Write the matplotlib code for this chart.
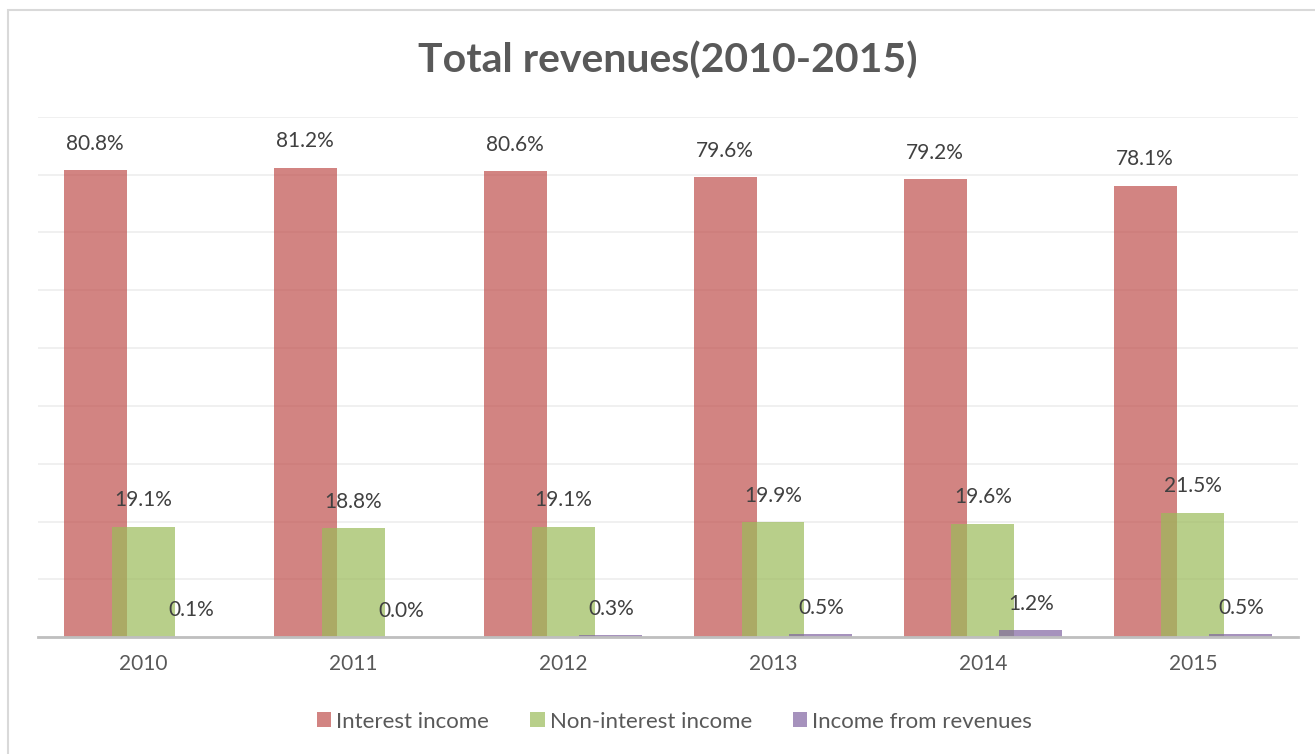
import numpy as np
from matplotlib import pyplot as plt
from matplotlib.patches import Patch, Rectangle

years = ["2010", "2011", "2012", "2013", "2014", "2015"]
interest_income = [80.8, 81.2, 80.6, 79.6, 79.2, 78.1]
non_interest_income = [19.1, 18.8, 19.1, 19.9, 19.6, 21.5]
income_from_revenues = [0.1, 0.0, 0.3, 0.5, 1.2, 0.5]

series = [
    ("Interest income", interest_income, "#C0504D"),
    ("Non-interest income", non_interest_income, "#9BBB59"),
    ("Income from revenues", income_from_revenues, "#8064A2"),
]

plt.rcParams["font.family"] = ["Lato", "DejaVu Sans"]
text_color = "#595959"

fig = plt.figure(figsize=(13.15, 7.54), dpi=100)
ax = fig.add_axes([0.029, 0.155, 0.958, 0.69])

x = np.arange(len(years))
width = 0.3
step = 0.228

for i, (name, values, color) in enumerate(series):
    pos = x + (i - 1) * step
    bars = ax.bar(pos, values, width=width, color=color, alpha=0.7, zorder=2 + i)
    for b, v in zip(bars, values):
        ax.annotate(f"{v:.1f}%", (b.get_x() + b.get_width() / 2, v),
                    xytext=(0, 19), textcoords="offset points",
                    ha="center", va="center", fontsize=15, color="#404040", zorder=10)

ax.set_xlim(-0.5, len(years) - 0.5)
ax.set_ylim(0, 90)
ax.set_yticks(np.arange(0, 91, 10))
ax.yaxis.grid(True, color="#EFEFEF", linewidth=1.3, zorder=0)
ax.set_axisbelow(True)
ax.tick_params(axis="y", left=False, labelleft=False)
ax.set_xticks(x, years)
ax.tick_params(axis="x", length=0, labelsize=15, labelcolor=text_color, pad=12)
for side in ["top", "right", "left"]:
    ax.spines[side].set_visible(False)
ax.spines["bottom"].set_color("#BFBFBF")
ax.spines["bottom"].set_linewidth(2)
ax.spines["bottom"].set_zorder(6)

fig.text(0.508, 0.92, "Total revenues(2010-2015)", ha="center", va="center",
         fontsize=29.5, fontweight="bold", color=text_color)

handles = [Patch(facecolor=c, alpha=0.7, label=n) for n, _, c in series]
fig.legend(handles=handles, loc="center", bbox_to_anchor=(0.513, 0.043), ncol=3,
           frameon=False, fontsize=16, labelcolor=text_color,
           handlelength=0.65, handleheight=0.65, handletextpad=0.22, columnspacing=1.85)

fig.add_artist(Rectangle((8 / 1315, -0.1), 1.2, 1.1 - 10 / 754, transform=fig.transFigure,
                         fill=False, edgecolor="#D9D9D9", linewidth=1.5))

plt.savefig("out.png", dpi=100)
plt.close(fig)
